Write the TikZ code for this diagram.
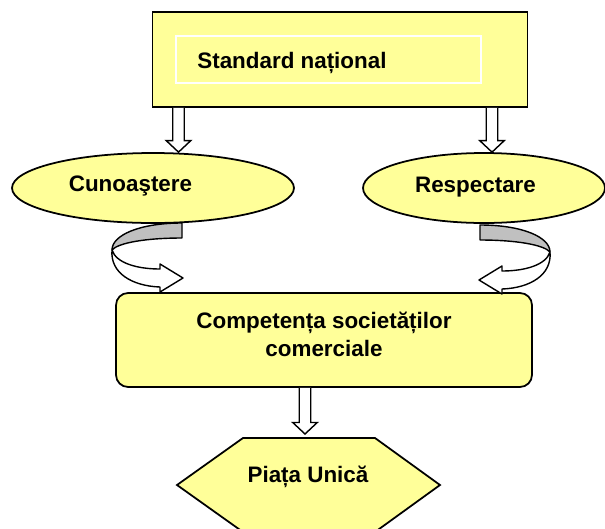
\documentclass[tikz,border=0pt]{standalone}
\usepackage{fontspec}
\setmainfont{Liberation Sans}
\usetikzlibrary{calc,shapes.geometric}
\definecolor{fillyel}{HTML}{FFFF99}
\definecolor{twistgray}{HTML}{C0C0C0}
\tikzset{
  box/.style={draw=black, fill=fillyel, line width=1pt, inner sep=0pt},
  oval/.style={ellipse, draw=black, fill=fillyel, line width=1pt, inner sep=0pt},
  frame/.style={draw=white, line width=1pt, inner sep=0pt},
  lab/.style={text=black, font=\fontsize{12.75}{15.9}\selectfont\bfseries, inner sep=0pt},
  hollow/.style={draw=black, fill=white, line width=0.8pt, line join=miter},
  twist/.style={draw=black, line width=0.8pt, line join=round},
}
% hollow block arrow pointing down, from #1 to tip #2
\newcommand{\hollowdown}[2]{%
  \filldraw[hollow] ($(#1)+(-5.75,0)$) -- ($(#2)+(-5.75,-11.5)$) -- ($(#2)+(-12.25,-11.5)$)
    -- (#2) -- ($(#2)+(12.25,-11.5)$) -- ($(#2)+(5.75,-11.5)$) -- ($(#1)+(5.75,0)$);}
% twisted ribbon arrow, origin at the top end of the gray band
\newcommand{\bentarrow}{%
  \filldraw[twist, fill=twistgray] (0,0) .. controls (-42,0) and (-70,12) .. (-70,27)
    .. controls (-64,20) and (-37,15) .. (0,15) -- cycle;
  \filldraw[twist, fill=white] (-70,27) .. controls (-66,40) and (-45,46) .. (-22,46)
    -- (-22,41) -- (1,55) -- (-22,69) -- (-22,64)
    .. controls (-50,63) and (-72,50) .. (-70,27) -- cycle;}

\begin{document}
\begin{tikzpicture}[x=0.02cm, y=-0.02cm]
  \useasboundingbox (0,0) rectangle (605,528);
  \clip (0,0) rectangle (605,528);
  % top box
  \node[box, minimum width=7.5cm, minimum height=1.9cm] (std) at (340,59.5) {};
  \node[frame, minimum width=6.1cm, minimum height=0.94cm] (stdframe) at (328.5,59.5) {};
  \node[lab, anchor=base west] (stdtxt) at (197,68) {Standard național};
  % ovals
  \node[oval, minimum width=5.64cm, minimum height=1.4cm] (cun) at (153,188) {};
  \node[lab, anchor=base] (cuntxt) at (130.5,191.5) {Cunoaştere};
  \node[oval, minimum width=4.84cm, minimum height=1.4cm] (resp) at (484,188) {};
  \node[lab, anchor=base] (resptxt) at (475.5,192) {Respectare};
  % middle box
  \node[box, rounded corners=0.24cm, minimum width=8.32cm, minimum height=1.88cm] (comp) at (324,340) {};
  \node[lab, align=center] (comptxt) at (324,334) {Competența societăților\\comerciale};
  % hexagon
  \filldraw[box] (243,438) -- (375,438) -- (440,485) -- (375,532) -- (243,532) -- (177,485) -- cycle;
  \node[lab, anchor=base] (piata) at (308,482) {Piața Unică};
  % straight arrows
  \coordinate (lx) at (178.5,0);
  \coordinate (rx) at (492,0);
  \coordinate (bx) at (305,0);
  \coordinate (hextop) at (305,434);
  \hollowdown{std.south -| lx}{cun.north -| lx}
  \hollowdown{std.south -| rx}{resp.north -| rx}
  \hollowdown{comp.south -| bx}{hextop}
  % bent arrows
  \begin{scope}[shift={(182,223)}]
    \bentarrow
  \end{scope}
  \begin{scope}[shift={(480,225)}, xscale=-1]
    \bentarrow
  \end{scope}
\end{tikzpicture}
\end{document}
